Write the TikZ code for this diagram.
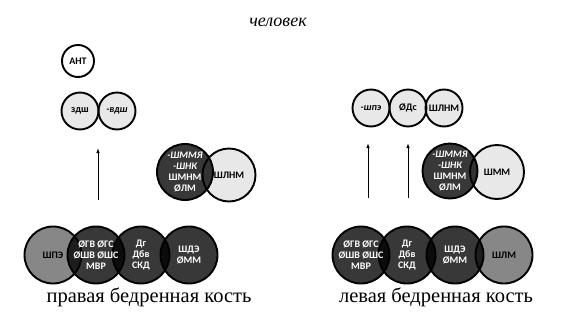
\documentclass[tikz,border=0pt]{standalone}
\usepackage{fontspec}
\setmainfont{Liberation Serif}
\newfontfamily\ringfont{Carlito}
\usetikzlibrary{arrows.meta,positioning}

\begin{document}
\begin{tikzpicture}[x=1pt,y=-1pt,
  ring/.style={circle,draw=black,line width=1.9pt,inner sep=0pt},
  lightring/.style={ring,fill=black,fill opacity=0.09},
  midring/.style={ring,fill=black,fill opacity=0.47},
  darkring/.style={ring,fill=black,fill opacity=0.78},
  tag/.style={font=\ringfont\bfseries\fontsize{10}{10.8}\selectfont,align=center},
  wtag/.style={tag,text=white},
  caption/.style={font=\fontsize{20.5}{22}\selectfont}]
  \useasboundingbox (0,0) rectangle (567,319);
  \node[font=\itshape\fontsize{18}{20}\selectfont] (human) at (278,22) {человек};
  % upper rows
  \node[ring,minimum size=32pt] (ant) at (78,61) {};
  \node[lightring,minimum size=37pt] (zdsh) at (80,111) {};
  \node[lightring,minimum size=37pt] (vdsh) at (117,111) {};
  \node[lightring,minimum size=37pt] (shpe) at (371,108) {};
  \node[lightring,minimum size=37pt] (ods) at (408,108) {};
  \node[lightring,minimum size=37pt] (shlnmA) at (444,108) {};
  % middle pairs
  \node[lightring,minimum size=53pt] (shlnmB) at (229,175) {};
  \node[darkring,minimum size=56pt] (shmmyaR) at (185,172) {};
  \node[lightring,minimum size=54pt] (shmm) at (497,172) {};
  \node[darkring,minimum size=55pt] (shmmyaL) at (450,171) {};
  % right femur
  \node[midring,minimum size=57pt] (rA) at (53,255) {};
  \node[darkring,minimum size=57pt] (rB) at (96,255) {};
  \node[darkring,minimum size=57pt] (rC) at (141,255) {};
  \node[darkring,minimum size=57pt] (rD) at (189,255) {};
  % left femur
  \node[darkring,minimum size=57pt] (lA) at (361,255) {};
  \node[darkring,minimum size=57pt] (lB) at (407,255) {};
  \node[darkring,minimum size=57pt] (lC) at (455,255) {};
  \node[midring,minimum size=57pt] (lD) at (504,255) {};
  % texts
  \node[tag] (antT) at (ant) {АНТ};
  \node[tag] (zdshT) at (zdsh) {здш};
  \node[tag] (vdshT) at (vdsh) {\itshape -вдш};
  \node[tag] (shpeT) at (shpe) {\itshape -шпэ};
  \node[tag] (odsT) at (ods) {ØДс};
  \node[tag] (shlnmAT) at (shlnmA) {ШЛНМ};
  \node[tag] (shlnmBT) at (shlnmB) {ШЛНМ};
  \node[wtag] (shmmyaRT) at (shmmyaR) {\itshape -ШММЯ\\\itshape -ШНК\\ШМНМ\\ØЛМ};
  \node[tag] (shmmT) at (shmm) {ШММ};
  \node[wtag] (shmmyaLT) at (shmmyaL) {\itshape -ШММЯ\\\itshape -ШНК\\ШМНМ\\ØЛМ};
  \node[tag] (rAT) at (rA) {ШПЭ};
  \node[wtag] (rBT) at (rB) {ØГВ ØГС\\ØШВ ØШС\\МВР};
  \node[wtag] (rCT) at (rC) {Дг\\Дбв\\СКД};
  \node[wtag] (rDT) at (rD) {ШДЭ\\ØММ};
  \node[wtag] (lAT) at (lA) {ØГВ ØГС\\ØШВ ØШС\\МВР};
  \node[wtag] (lBT) at (lB) {Дг\\Дбв\\СКД};
  \node[wtag] (lCT) at (lC) {ШДЭ\\ØММ};
  \node[tag] (lDT) at (lD) {ШЛМ};
  \node[caption] (rightbone) at (149,297) {правая бедренная кость};
  \node[caption] (leftbone) at (436,297) {левая бедренная кость};
  % arrows
  \coordinate (rTail) at (98,200);
  \coordinate (rHead) at (98,148);
  \coordinate (lTailA) at (368,198);
  \coordinate (lHeadA) at (368,143);
  \coordinate (lTailB) at (408,198);
  \coordinate (lHeadB) at (408,143);
  \draw[-{Latex[length=5pt,width=3.5pt]},line width=0.9pt] (rTail) -- (rHead);
  \draw[-{Latex[length=5pt,width=3.5pt]},line width=0.9pt] (lTailA) -- (lHeadA);
  \draw[-{Latex[length=5pt,width=3.5pt]},line width=0.9pt] (lTailB) -- (lHeadB);
\end{tikzpicture}
\end{document}
